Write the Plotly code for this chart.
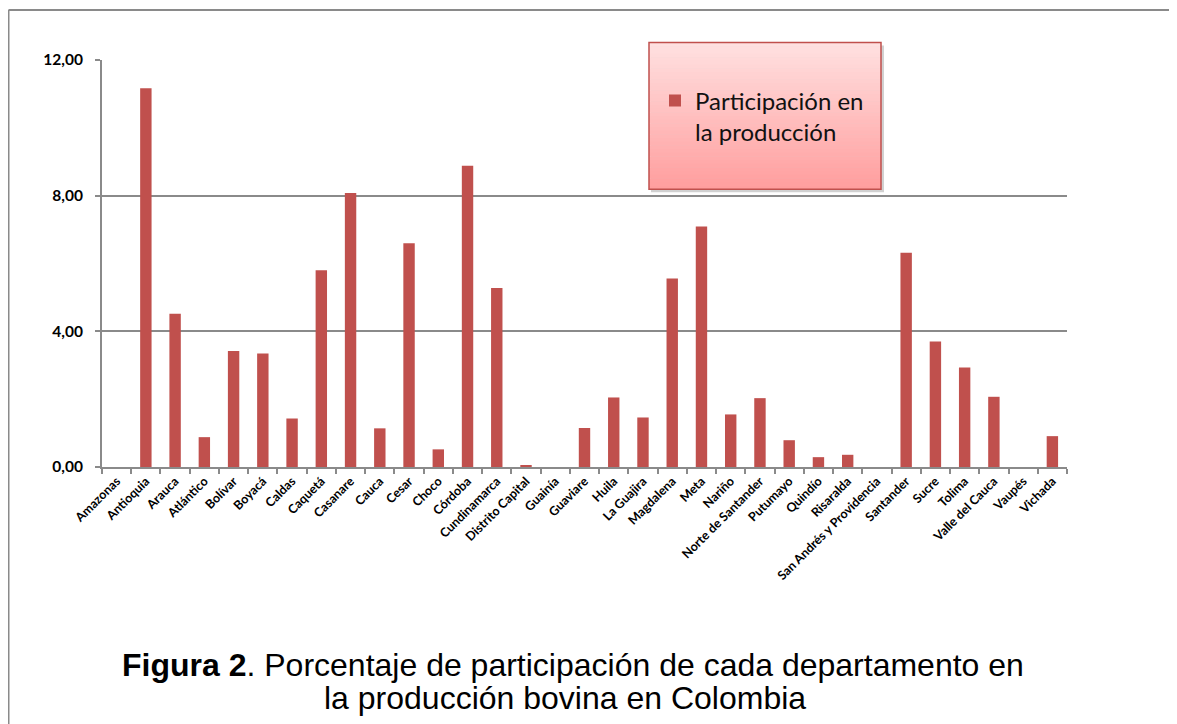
import plotly.graph_objects as go

departamentos = ["Amazonas", "Antioquia", "Arauca", "Atlántico", "Bolívar", "Boyacá", "Caldas",
                 "Caquetá", "Casanare", "Cauca", "Cesar", "Choco", "Córdoba", "Cundinamarca",
                 "Distrito Capital", "Guainía", "Guaviare", "Huila", "La Guajira", "Magdalena",
                 "Meta", "Nariño", "Norte de Santander", "Putumayo", "Quindío", "Risaralda",
                 "San Andrés y Providencia", "Santander", "Sucre", "Tolima", "Valle del Cauca",
                 "Vaupés", "Vichada"]
participacion = [0.0, 11.17, 4.52, 0.88, 3.42, 3.35, 1.43,
                 5.80, 8.08, 1.14, 6.60, 0.52, 8.88, 5.28,
                 0.05, 0.0, 1.15, 2.05, 1.46, 5.56,
                 7.09, 1.55, 2.03, 0.79, 0.29, 0.36,
                 0.0, 6.32, 3.70, 2.93, 2.07,
                 0.0, 0.91]
y_ticks = [0, 4, 8, 12]
serie_nombre = "Participación en<br>la producción"
caption_l1 = "<b>Figura 2</b>. Porcentaje de participación de cada departamento en"
caption_l2 = "la producción bovina en Colombia"

OFF = 8  # page body margin
W, H = 1177 - OFF, 724 - OFF
# plot area in screen pixels
L, R, T, B = 102, 1067, 59.5, 467

def px_x(p):
    return (p - L) / (R - L)

def px_y(p):
    return (B - p) / (B - T)

fig = go.Figure()
fig.add_trace(go.Bar(
    x=departamentos, y=participacion, name=serie_nombre,
    marker=dict(color="#C0504D", line=dict(width=0)),
    showlegend=True,
))

shapes = []
# outer frame (top and left lines)
shapes.append(dict(type="line", xref="paper", yref="paper", x0=px_x(8.5), x1=px_x(1190), y0=px_y(9.5), y1=px_y(9.5),
                   line=dict(color="#8a8a8a", width=2)))
shapes.append(dict(type="line", xref="paper", yref="paper", x0=px_x(8.5), x1=px_x(8.5), y0=px_y(9.5), y1=px_y(740),
                   line=dict(color="#8a8a8a", width=2)))

# legend box: shadow, gradient, border
bx0, bx1, by0, by1 = 649, 881, 42, 189
shapes.append(dict(type="rect", xref="paper", yref="paper", layer="above",
                   x0=px_x(bx0 + 2), x1=px_x(bx1 + 3), y0=px_y(by0 + 3), y1=px_y(by1 + 3),
                   fillcolor="rgba(0,0,0,0.18)", line=dict(width=0)))
n = 40
top = (255, 224, 224)
bot = (255, 158, 158)
for i in range(n):
    t = i / (n - 1)
    c = tuple(int(round(top[k] + (bot[k] - top[k]) * t)) for k in range(3))
    y0p = by0 + (by1 - by0) * i / n
    y1p = by0 + (by1 - by0) * (i + 1) / n
    shapes.append(dict(type="rect", xref="paper", yref="paper", layer="above",
                       x0=px_x(bx0), x1=px_x(bx1), y0=px_y(y0p), y1=px_y(y1p + 0.5),
                       fillcolor="rgb(%d,%d,%d)" % c, line=dict(width=0)))
shapes.append(dict(type="rect", xref="paper", yref="paper", layer="above",
                   x0=px_x(bx0), x1=px_x(bx1), y0=px_y(by0), y1=px_y(by1),
                   fillcolor="rgba(0,0,0,0)", line=dict(color="#C0504D", width=1.5)))

cap_font = dict(family="Liberation Sans, Arial", size=32, color="#000000")
fig.update_layout(
    width=W, height=H,
    margin=dict(l=L - OFF, r=W - (R - OFF), t=T - OFF, b=H - (B - OFF), pad=0),
    paper_bgcolor="white", plot_bgcolor="white",
    separators=",.",
    bargap=0.61,
    shapes=shapes,
    showlegend=True,
    legend=dict(x=px_x(655), y=px_y(116), xanchor="left", yanchor="middle",
                bgcolor="rgba(0,0,0,0)", borderwidth=0,
                font=dict(family="Lato", size=24, color="#111111"),
                valign="top"),
    annotations=[
        dict(text=caption_l1, xref="paper", yref="paper", x=px_x(573), y=px_y(665),
             xanchor="center", yanchor="middle", showarrow=False, font=cap_font),
        dict(text=caption_l2, xref="paper", yref="paper", x=px_x(565), y=px_y(698),
             xanchor="center", yanchor="middle", showarrow=False, font=cap_font),
    ],
    font=dict(family="Lato", color="#000000"),
)
fig.update_xaxes(
    type="category", showgrid=False, showline=True, linecolor="#8a8a8a", linewidth=2,
    ticks="outside", ticklen=5, tickcolor="#8a8a8a", tickwidth=1.5, tickson="boundaries",
    tickangle=-45, tickfont=dict(family="Lato", size=12.5, weight="bold", color="#000000"),
    range=[-0.5, len(departamentos) - 0.5], fixedrange=True,
)
fig.update_yaxes(
    range=[0, 12], tickvals=y_ticks, tickformat=".2f",
    showgrid=True, gridcolor="#8a8a8a", gridwidth=1.5,
    showline=True, linecolor="#8a8a8a", linewidth=2,
    ticks="outside", ticklen=5, tickcolor="#8a8a8a", tickwidth=1.5,
    tickfont=dict(family="Lato", size=15.5, weight="bold", color="#000000"),
    zeroline=False, ticklabelstandoff=9,
)

fig.write_html("out.html")
